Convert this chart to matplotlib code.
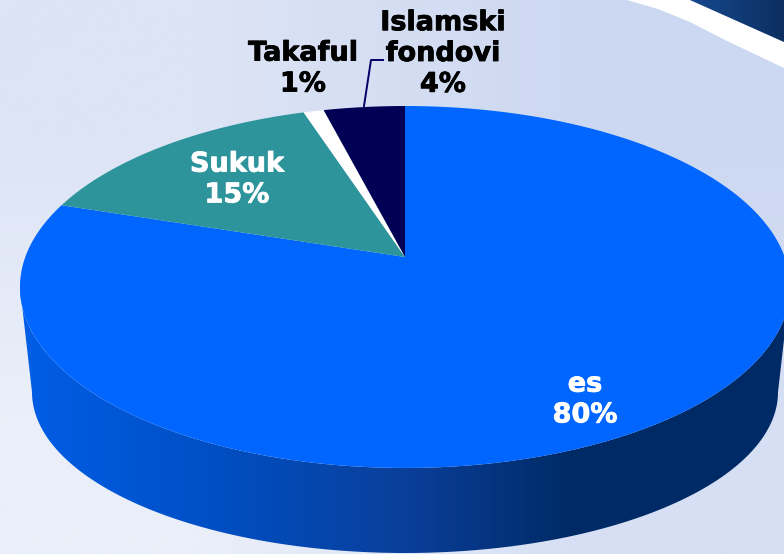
import numpy as np
import matplotlib
matplotlib.use('Agg')
import matplotlib.pyplot as plt
import matplotlib.patheffects as pe
from matplotlib.colors import LinearSegmentedColormap
from matplotlib.patches import Polygon

labels = ['es', 'Sukuk', 'Takaful', 'Islamski\nfondovi']
values = [80, 15, 1, 4]
colors = ['#0066ff', '#2d949c', '#ffffff', '#000055']

# perspective of the pie top: apex, size and tilt, in pixels
cx, cy = 405, 257
rx, ry = 379.7, 176
k = 0.1657


def rim(theta):
    # theta clockwise from the top of the pie
    u = np.sin(theta)
    v = np.cos(theta)
    return cx + rx * u / (1 + k * v), cy - ry * v / (1 + k * v)


fig = plt.figure(figsize=(7.84, 5.54), dpi=100)
ax = fig.add_axes([0, 0, 1, 1])
ax.axis('off')

# background
bg = np.array([[[0xdd, 0xe4, 0xf5], [0xcc, 0xd8, 0xf1]],
               [[0xea, 0xef, 0xf9], [0xd6, 0xdf, 0xf4]]]) / 255
ax.imshow(bg, extent=[0, 784, 554, 0], aspect='auto', interpolation='bilinear', zorder=0)

# white band and dark corner, top right
ax.add_patch(Polygon([(627, 0), (690, 0), (784, 42), (784, 68), (727, 41), (690, 22), (658, 9)],
                     fc='white', ec='none', zorder=1))
corner = Polygon([(690, 0), (784, 42), (784, 0)], fc='none', ec='none', zorder=1)
ax.add_patch(corner)
corner_cmap = LinearSegmentedColormap.from_list('corner', ['#15488f', '#0d2f60'])
im = ax.imshow(np.linspace(0, 1, 50)[None, :], cmap=corner_cmap, extent=[690, 784, 42, 0],
               aspect='auto', zorder=1)
im.set_clip_path(corner)

# side wall of the pie
t = np.linspace(np.pi, 2 * np.pi, 200)
wall_x = 405 + 373 * np.cos(t)
wall_y = 392 - 161 * np.sin(t)
top_t = np.linspace(np.pi / 2 + np.arcsin(k), 3 * np.pi / 2 - np.arcsin(k), 200)
top_x, top_y = rim(top_t)
wall = Polygon(np.r_[np.c_[wall_x, wall_y], np.c_[top_x, top_y]], fc='none', ec='none', zorder=2)
ax.add_patch(wall)
wall_cmap = LinearSegmentedColormap.from_list(
    'wall', [(0, '#005ee6'), (0.25, '#004fc4'), (0.5, '#0a3f9a'), (0.72, '#002a66'), (1, '#002a66')])
im = ax.imshow(np.linspace(0, 1, 256)[None, :], cmap=wall_cmap, extent=[20, 790, 554, 280],
               aspect='auto', zorder=2)
im.set_clip_path(wall)

# top of the pie
start = 0
for value, color in zip(values, colors):
    end = start + value
    th = np.linspace(start, end, max(value * 4, 8)) / sum(values) * 2 * np.pi
    x, y = rim(th)
    ax.fill(np.r_[cx, x], np.r_[cy, y], color=color, lw=0, zorder=3)
    start = end

# labels
text_kw = dict(family='DejaVu Sans', weight='bold', fontsize=19.5, ha='center', va='center',
               linespacing=1.24, zorder=5)
white = [pe.withStroke(linewidth=0.6, foreground='white')]
black = [pe.withStroke(linewidth=0.6, foreground='black')]
ax.text(585, 400, f'{labels[0]}\n{values[0]}%', color='white', path_effects=white, **text_kw)
ax.text(237, 180, f'{labels[1]}\n{values[1]}%', color='white', path_effects=white, **text_kw)
ax.text(303, 69, f'{labels[2]}\n{values[2]}%', color='black', path_effects=black, **text_kw)
ax.text(443, 54, f'{labels[3]}\n{values[3]}%', color='black', path_effects=black, **text_kw)

# leader line
ax.plot([364, 371, 383], [106, 60, 60], color='#000066', lw=1.4, zorder=4)

ax.set_xlim(0, 784)
ax.set_ylim(554, 0)
fig.savefig('out.png', dpi=100)
